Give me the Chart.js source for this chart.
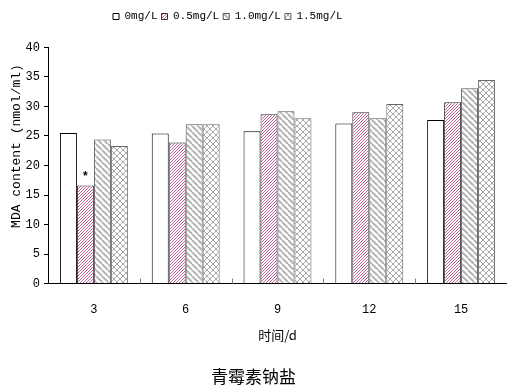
<!DOCTYPE html>
<html>
<head>
<meta charset="utf-8">
<script src="https://cdn.jsdelivr.net/npm/chart.js@4.4.1/dist/chart.umd.min.js"></script>
<style>
  html, body { margin: 0; padding: 0; background: #fff; }
  #wrap { width: 507px; height: 387px; position: relative; }
</style>
</head>
<body>
<div id="wrap"><canvas id="c" width="507" height="387"></canvas></div>
<script>
// Sampling days and MDA content for each penicillin sodium concentration
const days = ['3', '6', '9', '12', '15'];
const seriesNames = ['0mg/L', '0.5mg/L', '1.0mg/L', '1.5mg/L'];
const mda0 = [25.5, 25.4, 25.8, 27.1, 27.7];
const mda05 = [16.6, 23.9, 28.7, 29.0, 30.7];
const mda10 = [24.4, 27.0, 29.2, 28.0, 33.1];
const mda15 = [23.3, 27.0, 28.0, 30.4, 34.5];
const yTicks = [0, 5, 10, 15, 20, 25, 30, 35, 40];
// significance marks: dataset index -> day index -> mark
const sigMarks = { 1: { 0: '*' } };

const MONO = '"Liberation Mono", "DejaVu Sans Mono", monospace';
const CJK = '"Noto Sans CJK SC", sans-serif';

const patternCtx = document.getElementById('c').getContext('2d');
function makePattern(size, draw) {
  const cv = document.createElement('canvas');
  cv.width = size; cv.height = size;
  const g = cv.getContext('2d');
  g.fillStyle = '#fff';
  g.fillRect(0, 0, size, size);
  draw(g, size);
  return patternCtx.createPattern(cv, 'repeat');
}

// dense pink forward hatch
const pinkHatch = makePattern(3, (g, s) => {
  g.strokeStyle = '#c2649a';
  g.lineWidth = 1;
  g.beginPath();
  for (let k = -1; k <= 1; k++) {
    g.moveTo(k * s, s);
    g.lineTo(k * s + s, 0);
  }
  g.stroke();
});

// wide grey backward hatch
const greyHatch = makePattern(6, (g, s) => {
  g.strokeStyle = '#b4b4b4';
  g.lineWidth = 2;
  g.beginPath();
  for (let k = -1; k <= 1; k++) {
    g.moveTo(k * s, 0);
    g.lineTo(k * s + s, s);
  }
  g.stroke();
});

// grey lattice
const lattice = makePattern(6, (g, s) => {
  g.strokeStyle = '#a8a8a8';
  g.lineWidth = 1;
  g.beginPath();
  g.moveTo(0, s / 2); g.lineTo(s / 2, 0); g.lineTo(s, s / 2); g.lineTo(s / 2, s); g.closePath();
  g.stroke();
});

// small tick marks on the category axis, pointing up into the plot
const inwardTicks = {
  id: 'inwardTicks',
  afterDatasetsDraw(chart) {
    const { ctx, scales: { x } } = chart;
    ctx.save();
    ctx.strokeStyle = '#808080';
    ctx.lineWidth = 1;
    for (let i = 1; i < days.length; i++) {
      const px = Math.round((x.getPixelForValue(i - 1) + x.getPixelForValue(i)) / 2) + 0.5;
      ctx.beginPath();
      ctx.moveTo(px, x.top);
      ctx.lineTo(px, x.top - 5);
      ctx.stroke();
    }
    ctx.restore();
  }
};

// legend sits left of centre, starting near x = 113
const legendShift = {
  id: 'legendShift',
  afterLayout(chart) {
    const lg = chart.legend;
    const w = lg.right - lg.left;
    lg.left = 109;
    lg.right = lg.left + w;
  }
};

const sigPlugin = {
  id: 'sigPlugin',
  afterDatasetsDraw(chart) {
    const { ctx } = chart;
    ctx.save();
    ctx.fillStyle = '#000';
    ctx.font = 'bold 12px ' + MONO;
    ctx.textAlign = 'center';
    ctx.textBaseline = 'alphabetic';
    Object.keys(sigMarks).forEach(di => {
      const meta = chart.getDatasetMeta(+di);
      Object.keys(sigMarks[di]).forEach(idx => {
        const el = meta.data[+idx];
        ctx.fillText(sigMarks[di][idx], el.x, el.y - 6);
      });
    });
    ctx.restore();
  }
};

new Chart(document.getElementById('c'), {
  type: 'bar',
  data: {
    labels: days,
    datasets: [
      { label: seriesNames[0], data: mda0, backgroundColor: '#ffffff', borderColor: '#000000', borderWidth: 1 },
      { label: seriesNames[1], data: mda05, backgroundColor: pinkHatch, borderColor: '#333333', borderWidth: 1 },
      { label: seriesNames[2], data: mda10, backgroundColor: greyHatch, borderColor: '#555555', borderWidth: 1 },
      { label: seriesNames[3], data: mda15, backgroundColor: lattice, borderColor: '#666666', borderWidth: 1 }
    ]
  },
  options: {
    responsive: false,
    animation: false,
    devicePixelRatio: 1,
    layout: { padding: { left: 0, right: 0, top: 7, bottom: 0 } },
    datasets: { bar: { categoryPercentage: 0.74, barPercentage: 1.0 } },
    plugins: {
      tooltip: { enabled: false },
      legend: {
        position: 'top',
        align: 'start',
        weight: 1000,
        labels: {
          boxWidth: 6,
          boxHeight: 6,
          padding: 4,
          color: '#000',
          font: { family: MONO, size: 11 }
        }
      },
      // empty spacer between legend and plot
      subtitle: {
        display: true,
        position: 'top',
        weight: 500,
        text: ' ',
        font: { size: 10, lineHeight: 1.24 },
        padding: { top: 2, bottom: 1 }
      },
      title: {
        display: true,
        position: 'bottom',
        text: '青霉素钠盐',
        color: '#000',
        font: { family: CJK, size: 17, weight: 'normal' },
        padding: { top: 20, bottom: 0 }
      }
    },
    scales: {
      x: {
        afterFit(scale) { scale.height = 63; },
        grid: { display: false, drawTicks: false },
        border: { color: '#000', width: 1 },
        ticks: { color: '#000', font: { family: MONO, size: 12 }, padding: 19 },
        title: { display: true, text: '时间/d', color: '#000', font: { family: CJK, size: 13 }, padding: { top: 4, bottom: 4 } }
      },
      y: {
        min: 0, max: 40,
        afterBuildTicks(scale) { scale.ticks = yTicks.map(v => ({ value: v })); },
        afterFit(scale) { scale.width = 48; },
        grid: { drawOnChartArea: false, tickLength: 4, color: '#000' },
        border: { color: '#000', width: 1 },
        ticks: { color: '#000', font: { family: MONO, size: 12 }, padding: 4 },
        title: { display: true, text: '     MDA content (nmol/ml)', color: '#000', font: { family: MONO, size: 13 }, padding: { top: 9, bottom: 2 } }
      }
    }
  },
  plugins: [inwardTicks, legendShift, sigPlugin]
});
</script>
</body>
</html>
